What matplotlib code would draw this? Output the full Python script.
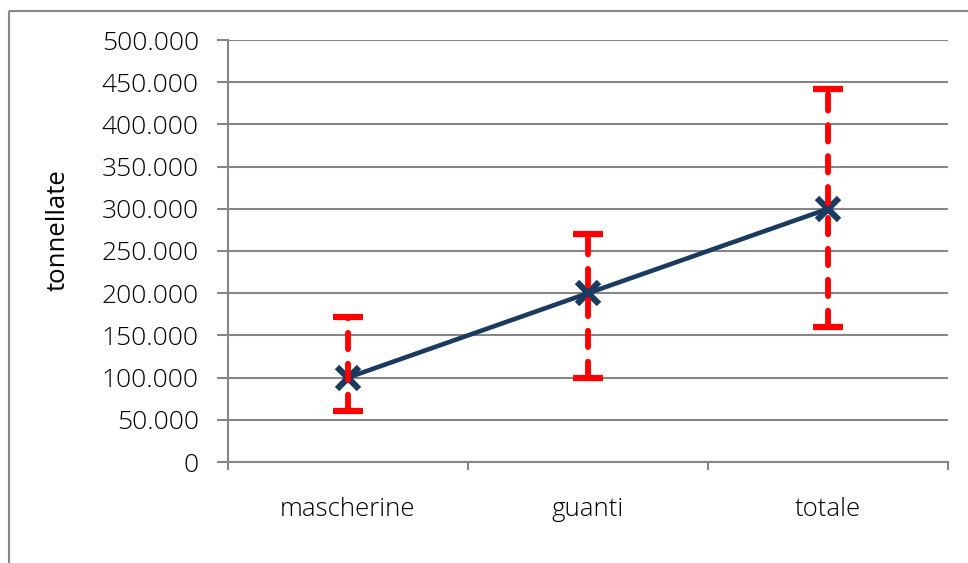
import matplotlib.pyplot as plt
from matplotlib.patches import Rectangle
from matplotlib.ticker import FuncFormatter

# dati (tonnellate)
categorie = ['mascherine', 'guanti', 'totale']
valori = [100000, 200000, 300000]
err_min = [60000, 100000, 160000]
err_max = [172000, 270000, 442000]

plt.rcParams['font.family'] = ['Open Sans', 'DejaVu Sans']
plt.rcParams['font.weight'] = 'light'

grigio = '#868686'
blu = '#1B3A60'

fig = plt.figure(figsize=(9.68, 5.63), dpi=100)
ax = fig.add_axes([228 / 968, 101 / 563, 720 / 968, 422 / 563])

x = list(range(len(categorie)))
yerr = [[v - lo for v, lo in zip(valori, err_min)],
        [hi - v for v, hi in zip(valori, err_max)]]

line, = ax.plot(x, valori, color=blu, lw=3.3, marker='x', ms=16, mew=4.5, zorder=3)
eb = ax.errorbar(x, valori, yerr=yerr, fmt='none', ecolor='#FF0000', elinewidth=4.2,
                 capsize=10.5, capthick=4.5, zorder=4)
for bl in eb[2]:
    bl.set_linestyle((0, (2.8, 2.5)))
    bl.set_capstyle('round')

ax.set_xlim(-0.5, 2.5)
ax.set_ylim(0, 500000)
ax.set_yticks(range(0, 500001, 50000))
ax.yaxis.set_major_formatter(FuncFormatter(lambda v, p: f'{int(v):,}'.replace(',', '.')))
ax.grid(axis='y', color=grigio, lw=1.5, zorder=0)
ax.set_axisbelow(True)

ax.set_xticks(x)
ax.set_xticklabels(categorie)
ax.set_xticks([-0.5, 0.5, 1.5, 2.5], minor=True)
ax.tick_params(axis='x', which='major', length=0, pad=25, labelsize=18.5)
ax.tick_params(axis='x', which='minor', length=6, width=1.5, color=grigio, direction='out')
ax.tick_params(axis='y', length=8, width=1.5, color=grigio, pad=13, labelsize=19)

for s in ['top', 'right']:
    ax.spines[s].set_visible(False)
for s in ['left', 'bottom']:
    ax.spines[s].set_color(grigio)
    ax.spines[s].set_linewidth(1.5)

ax.set_ylabel('tonnellate', fontsize=18.5)
ax.yaxis.set_label_coords((71 - 228) / 720, (462 - 230) / 422)

# cornice esterna
fig.patches.append(Rectangle((9 / 968, 1 - 11 / 563), 1.2, -1.2, transform=fig.transFigure,
                             fill=False, edgecolor=grigio, lw=1.5, clip_on=False))

plt.savefig('out.png', dpi=100)
